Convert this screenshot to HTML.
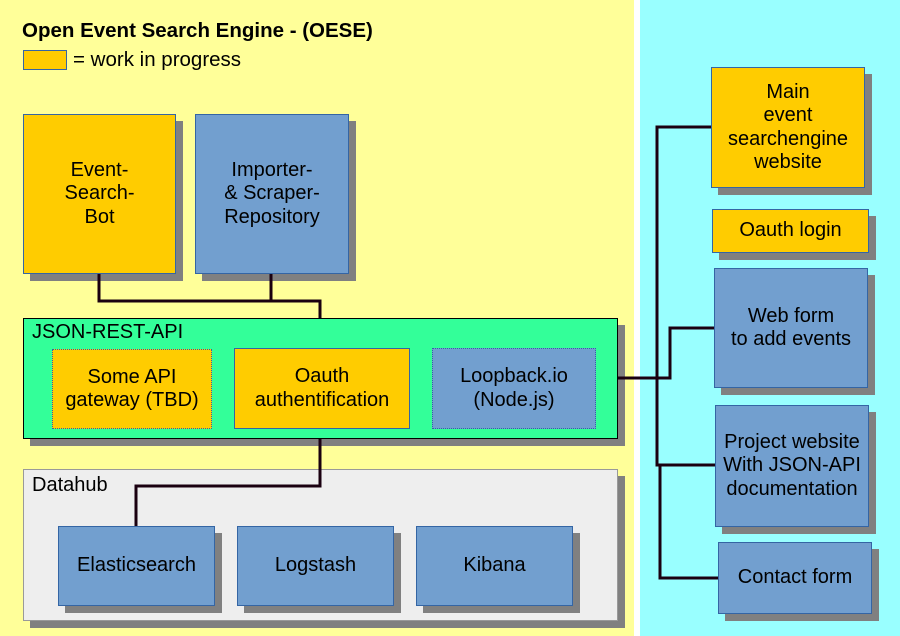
<!DOCTYPE html><html><head><style>
body{margin:0;width:900px;height:636px;position:relative;overflow:hidden;font-family:"Liberation Sans",sans-serif;background:#fff}
.b{position:absolute;box-sizing:border-box;border:1px solid #3465a4;display:flex;align-items:center;justify-content:center;text-align:center;font-size:20px;line-height:23.5px;color:#000;box-shadow:7px 7px 0 #808080}
.o{background:#ffcc00}.bl{background:#729fcf}
.d{border-style:dotted}
</style></head><body>
<div style="position:absolute;left:0;top:0;width:634px;height:636px;background:#ffff99"></div>
<div style="position:absolute;left:640px;top:0;width:260px;height:636px;background:#99ffff"></div>
<div style="position:absolute;left:22px;top:19px;font-size:20.5px;font-weight:bold">Open Event Search Engine - (OESE)</div>
<div style="position:absolute;left:23px;top:50px;width:42px;height:18px;background:#ffcc00;border:1px solid #3465a4"></div>
<div style="position:absolute;left:73px;top:48px;font-size:20.5px">= work in progress</div>
<div class="b o" style="left:23px;top:114px;width:153px;height:160px">Event-<br>Search-<br>Bot</div>
<div class="b bl" style="left:195px;top:114px;width:154px;height:160px">Importer-<br>&amp; Scraper-<br>Repository</div>
<div class="b" style="left:23px;top:318px;width:595px;height:121px;background:#33ff99;border-color:#000;align-items:flex-start;justify-content:flex-start;padding:2px 0 0 8px">JSON-REST-API</div>
<div class="b o d" style="left:52px;top:349px;width:160px;height:80px;box-shadow:none">Some API<br>gateway (TBD)</div>
<div class="b o" style="left:234px;top:348px;width:176px;height:81px;box-shadow:none">Oauth<br>authentification</div>
<div class="b bl d" style="left:432px;top:348px;width:164px;height:81px;box-shadow:none">Loopback.io<br>(Node.js)</div>
<div class="b" style="left:23px;top:469px;width:595px;height:152px;background:#eeeeee;border-color:#999;align-items:flex-start;justify-content:flex-start;padding:4px 0 0 8px">Datahub</div>
<div class="b bl" style="left:58px;top:526px;width:157px;height:80px">Elasticsearch</div>
<div class="b bl" style="left:237px;top:526px;width:157px;height:80px">Logstash</div>
<div class="b bl" style="left:416px;top:526px;width:157px;height:80px">Kibana</div>
<div class="b o" style="left:711px;top:67px;width:154px;height:121px">Main<br>event<br>searchengine<br>website</div>
<div class="b o" style="left:712px;top:209px;width:157px;height:44px">Oauth login</div>
<div class="b bl" style="left:714px;top:268px;width:154px;height:120px">Web form<br>to add events</div>
<div class="b bl" style="left:715px;top:405px;width:154px;height:122px">Project website<br>With JSON-API<br>documentation</div>
<div class="b bl" style="left:718px;top:542px;width:154px;height:72px">Contact form</div>
<svg style="position:absolute;left:0;top:0" width="900" height="636"><g stroke="#1a0010" stroke-width="3" fill="none">
<path d="M99 274V301H320V318M271 274V301"/>
<path d="M320 439V486H136V526"/>
<path d="M618 378H670V328H714"/>
<path d="M711 127H657V465H715M660 465V578H718"/>
</g></svg>
</body></html>
